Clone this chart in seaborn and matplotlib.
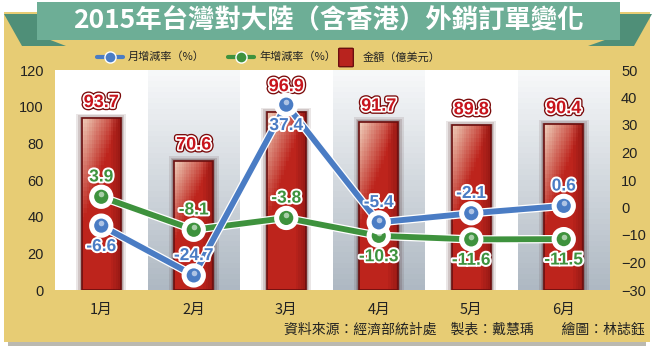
import numpy as np
import pandas as pd
import matplotlib
matplotlib.use("Agg")
import matplotlib.pyplot as plt
import matplotlib.patheffects as pe
from matplotlib.patches import Rectangle, Polygon, FancyBboxPatch
from matplotlib.lines import Line2D
import seaborn as sns

# ---------------- data ----------------
months = ["1月", "2月", "3月", "4月", "5月", "6月"]
amount = [93.7, 70.6, 96.9, 91.7, 89.8, 90.4]          # 金額（億美元）
mom = [-6.6, -24.7, 37.4, -5.4, -2.1, 0.6]              # 月增減率（%）
yoy = [3.9, -8.1, -3.8, -10.3, -11.6, -11.5]            # 年增減率（%）
mom_label_pos = ["below", "above", "below", "above", "above", "above"]
yoy_label_pos = ["above", "above", "above", "below", "below", "below"]
left_ticks = [0, 20, 40, 60, 80, 100, 120]
right_ticks = [-30, -20, -10, 0, 10, 20, 30, 40, 50]

title = "2015年台灣對大陸（含香港）外銷訂單變化"
footer = "資料來源：經濟部統計處　製表：戴慧瑀　　繪圖：林誌鈺"

# ---------------- style ----------------
sns.set_theme(style="white")
plt.rcParams["font.family"] = ["Noto Sans CJK TC", "DejaVu Sans"]
NUMFONT = ["Liberation Sans Narrow", "Liberation Sans", "DejaVu Sans"]
TICKFONT = ["Liberation Sans", "Noto Sans CJK TC", "DejaVu Sans"]
bar_label_lift = [8.5, 8.5, 14.0, 8.5, 8.5, 8.5]   # style: label lift above bar (left-axis units)

W, H = 656, 353
fig = plt.figure(figsize=(W / 100, H / 100), dpi=100)
fig.patch.set_facecolor("white")

def px(x, y):
    return (x / W, 1 - y / H)

GOLD = "#E7CC74"
TEAL = "#6DAE96"
TEAL_D = "#4F8F78"
BLUE = "#4A7CC4"
GREEN = "#3E923D"
RED = "#B8231E"

# gold panel with shadow
fig.add_artist(Rectangle(px(8, 346), (646 - 8) / W, (346 - 14) / H,
                         transform=fig.transFigure, facecolor="#BBB9B0", edgecolor="none", zorder=0))
fig.add_artist(Rectangle(px(4, 342), (650 - 4) / W, (342 - 12) / H,
                         transform=fig.transFigure, facecolor=GOLD, edgecolor="none", zorder=1))

# banner folds
for pts in ([(4, 14), (40, 14), (40, 36), (66, 46), (22, 46)],
            [(652, 14), (616, 14), (616, 36), (588, 46), (634, 46)]):
    fig.add_artist(Polygon([px(*p) for p in pts], closed=True, transform=fig.transFigure,
                           facecolor=TEAL_D, edgecolor="none", zorder=2))
fig.add_artist(Rectangle(px(37, 40), (620 - 37) / W, (40 - 2) / H,
                         transform=fig.transFigure, facecolor=TEAL, edgecolor="none", zorder=3))
fig.text(*px(328, 21), title, ha="center", va="center", color="white",
         fontsize=19, fontweight="bold", zorder=4)

# ---------------- axes ----------------
L, R, T, B = 55, 610, 70, 290
ax = fig.add_axes([L / W, 1 - B / H, (R - L) / W, (B - T) / H], zorder=5)
ax.set_facecolor("white")

df = pd.DataFrame({"month": months, "amount": amount, "mom": mom, "yoy": yoy})
sns.barplot(data=df, x="month", y="amount", ax=ax, color=RED, width=0.42,
            edgecolor="#6B0F0F", linewidth=1.2, zorder=3)
ax.set_ylim(0, 120)
ax.set_xlim(-0.5, len(months) - 0.5)

# alternating gray bands (vertical gradient)
nb = 40
band_y = np.linspace(0, 120, nb + 1)
tb = (np.arange(nb)[:, None] + 0.5) / nb
top_c = np.array([0.97, 0.975, 0.98])
bot_c = np.array([0.68, 0.72, 0.76])
band_rgb = (bot_c * (1 - tb) + top_c * tb)[:, None, :]
for i in range(len(months)):
    if i % 2 == 1:
        ax.pcolormesh(np.array([i - 0.5, i + 0.5]), band_y, band_rgb,
                      shading="flat", zorder=0.5, edgecolors="none", antialiased=False)

# bar gradient + shadow + labels
ny, nx = 40, 16
ty = (np.arange(ny)[:, None] + 0.5) / ny
tx = (np.arange(nx)[None, :] + 0.5) / nx
base = np.array([0.74, 0.14, 0.11])
peach = np.array([0.94, 0.82, 0.74])
dark = np.array([0.50, 0.07, 0.06])
wgt = np.clip((ty * 1.6 - 0.6) - 1.0 * tx, 0, 1)[..., None]
edge = np.clip((tx - 0.72) / 0.28, 0, 1)[..., None] * 0.6
img = base * (1 - wgt) + peach * wgt
img = img * (1 - edge) + dark * edge
bars = list(ax.patches)
for i, patch in enumerate(bars):
    x0, y0 = patch.get_x(), patch.get_y()
    w, h = patch.get_width(), patch.get_height()
    for k, a in ((0.06, 0.10), (0.04, 0.14), (0.02, 0.2)):
        ax.add_patch(Rectangle((x0 - k, y0), w + 2 * k, h + k * 40, facecolor="#3a1010",
                               edgecolor="none", alpha=a, zorder=2))
    ax.pcolormesh(np.linspace(x0, x0 + w, nx + 1), np.linspace(y0, y0 + h, ny + 1), img,
                  shading="flat", zorder=3.2, edgecolors="none", antialiased=False)
    patch.set_facecolor("none")
    patch.set_zorder(3.4)
    ax.text(x0 + w / 2, y0 + h + bar_label_lift[i], f"{amount[i]:.1f}", ha="center", va="center",
            color="#C8141C", fontsize=13, fontweight="bold", family=NUMFONT, zorder=6,
            path_effects=[pe.Stroke(linewidth=4.4, foreground="#7A0A0A"),
                          pe.Stroke(linewidth=2.5, foreground="white"), pe.Normal()])

ax.set_yticks(left_ticks)
ax.set_xlabel("")
ax.set_ylabel("")
ax.tick_params(axis="both", length=0, labelsize=10.5, colors="#222222")
ax.tick_params(axis="y", pad=8)
ax.tick_params(axis="x", pad=9)
for lab in ax.get_yticklabels():
    lab.set_family(TICKFONT)
for s in ax.spines.values():
    s.set_visible(False)
ax.grid(False)

# ---------------- lines on right axis ----------------
ax2 = ax.twinx()
xs = np.arange(len(months))
for vals, col, pos_list in ((yoy, GREEN, yoy_label_pos), (mom, BLUE, mom_label_pos)):
    sns.lineplot(x=xs, y=vals, ax=ax2, color=col, linewidth=4.2, marker="o",
                 markersize=11.5, markeredgecolor="white", markeredgewidth=1.3,
                 zorder=5, path_effects=[pe.Stroke(linewidth=6, foreground="white"), pe.Normal()])
    ax2.scatter(xs, np.array(vals) + 0.9, s=16, color="white", alpha=0.55, zorder=7,
                linewidths=0)
    for x, v, p in zip(xs, vals, pos_list):
        off = 7.2 if p == "above" else -7.6
        ax2.text(x, v + off, f"{v:.1f}", ha="center", va="center", color=col,
                 fontsize=12.5, fontweight="bold", family=NUMFONT, zorder=8,
                 path_effects=[pe.Stroke(linewidth=2.8, foreground="white"), pe.Normal()])

ax2.set_ylim(-30, 50)
ax2.set_yticks(right_ticks)
ax2.tick_params(axis="y", length=0, labelsize=10.5, colors="#222222", pad=8)
for lab in ax2.get_yticklabels():
    lab.set_family(TICKFONT)
for s in ax2.spines.values():
    s.set_visible(False)
ax2.grid(False)
ax2.set_ylabel("")

# ---------------- legend ----------------
ly = 57
for x0, col in ((97, BLUE), (228, GREEN)):
    fig.add_artist(Line2D([x0 / W, (x0 + 26) / W], [1 - ly / H] * 2, transform=fig.transFigure,
                          color=col, linewidth=3, zorder=6))
    fig.add_artist(Line2D([(x0 + 13) / W], [1 - ly / H], transform=fig.transFigure,
                          marker="o", markersize=8, color=col, markeredgecolor="white",
                          markeredgewidth=1, zorder=7))
fig.text(*px(128, ly), "月增減率（%）", ha="left", va="center", fontsize=8, color="#222222", zorder=6)
fig.text(*px(259, ly), "年增減率（%）", ha="left", va="center", fontsize=8, color="#222222", zorder=6)
fig.add_artist(FancyBboxPatch(px(340, 66), 12 / W, 17 / H, boxstyle="round,pad=0.002",
                              transform=fig.transFigure, facecolor=RED, edgecolor="#6B0F0F",
                              linewidth=1, zorder=6))
fig.text(*px(363, ly), "金額（億美元）", ha="left", va="center", fontsize=8, color="#222222", zorder=6)

# footer
fig.text(*px(645, 330), footer, ha="right", va="center", fontsize=10, color="#222222", zorder=6)

fig.savefig("out.png", dpi=100, facecolor=fig.get_facecolor())
